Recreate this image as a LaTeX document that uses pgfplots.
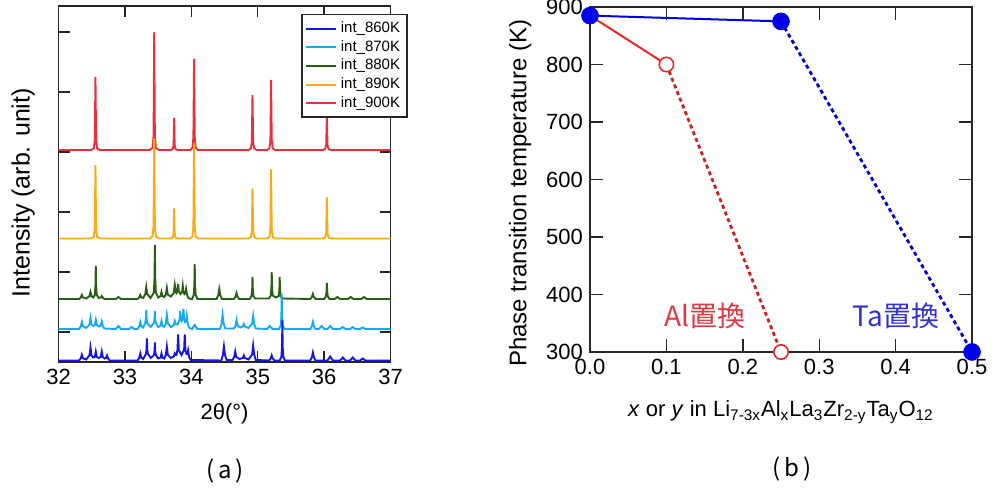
\documentclass[border=0pt]{standalone}
\usepackage{fontspec}
\setmainfont{Liberation Sans}
\newfontfamily\jp{Noto Sans CJK JP}
\usepackage{pgfplots}
\pgfplotsset{compat=1.18}

\definecolor{c860}{RGB}{20,20,230}
\definecolor{c870}{RGB}{20,170,240}
\definecolor{c880}{RGB}{40,95,20}
\definecolor{c890}{RGB}{250,170,20}
\definecolor{c900}{RGB}{230,50,60}
\definecolor{pblue}{RGB}{0,0,235}
\definecolor{pred}{RGB}{235,40,40}
\definecolor{tred}{RGB}{225,55,65}
\definecolor{tblue}{RGB}{50,50,210}

\pgfplotsset{
  every axis/.append style={
    scale only axis,
    axis line style={black!85, line width=0.8pt},
    tick style={black!85, line width=0.7pt},
    tick align=inside,
    tick pos=both,
    /pgf/number format/assume math mode=true,
    tick label style={font=\fontsize{11}{13}\selectfont},
  },
}

\begin{document}
\begin{tikzpicture}
\path[use as bounding box] (0,0) rectangle (497pt,245pt);

% ---------- (a) XRD patterns ----------
\begin{axis}[
  at={(29.3pt,64pt)}, anchor=south west,
  width=166pt, height=178pt,
  xmin=32, xmax=37, ymin=0, ymax=356,
  xtick={32,33,34,35,36,37},
  ytick={30,90,150,210,270,330}, yticklabels={},
  major tick length=5.5pt,
  xlabel={2θ(°)},
  xlabel style={at={(axis description cs:0.5,0)}, yshift=-26pt, anchor=center,
                font=\fontsize{11}{13}\selectfont},
  ylabel={Intensity (arb. unit)},
  ylabel style={at={(axis description cs:-0.107,0.475)}, anchor=center,
                font=\fontsize{12.5}{14}\selectfont},
  reverse legend,
  legend cell align=left,
  legend style={at={(1.052,0.978)}, anchor=north east,
                draw=black!85, line width=0.8pt,
                font=\fontsize{7.5}{8}\selectfont,
                inner sep=1.5pt, row sep=-1.6pt},
  legend image code/.code={\draw[#1, line width=1pt] (0pt,0pt) -- (15pt,0pt);},
  every axis plot/.append style={line width=0.95pt},
]
% 900 K
\addplot[c900] coordinates {
(32,212) (32.49,212) (32.53,213.5) (32.545,222) (32.555,285) (32.565,222) (32.58,213.5) (32.62,212)
(33.37,212) (33.415,214) (33.43,226) (33.44,330) (33.45,226) (33.465,214) (33.51,212)
(33.69,212) (33.72,213) (33.732,217) (33.74,244) (33.748,217) (33.76,213) (33.79,212)
(33.98,212) (34.015,214) (34.03,225) (34.04,303) (34.05,225) (34.065,214) (34.10,212)
(34.86,212) (34.895,213.5) (34.91,220) (34.92,267) (34.93,220) (34.945,213.5) (34.98,212)
(35.14,212) (35.175,213.5) (35.19,222) (35.20,282) (35.21,222) (35.225,213.5) (35.26,212)
(35.98,212) (36.015,213) (36.03,217) (36.04,245) (36.05,217) (36.065,213) (36.10,212)
(37,212)};
\addlegendentry{int\_900K}
% 890 K
\addplot[c890] coordinates {
(32,123.5) (32.49,123.5) (32.53,125) (32.545,133) (32.555,196.5) (32.565,133) (32.58,125) (32.62,123.5)
(33.37,123.5) (33.415,125.5) (33.43,136) (33.44,223.5) (33.45,136) (33.465,125.5) (33.51,123.5)
(33.69,123.5) (33.72,124.5) (33.732,128) (33.74,153.5) (33.748,128) (33.76,124.5) (33.79,123.5)
(33.98,123.5) (34.015,125.5) (34.03,135) (34.04,218.5) (34.05,135) (34.065,125.5) (34.10,123.5)
(34.86,123.5) (34.895,125) (34.91,131) (34.92,173.5) (34.93,131) (34.945,125) (34.98,123.5)
(35.14,123.5) (35.175,125) (35.19,132) (35.20,192.5) (35.21,132) (35.225,125) (35.26,123.5)
(35.98,123.5) (36.015,124.5) (36.03,129) (36.04,164.5) (36.05,129) (36.065,124.5) (36.10,123.5)
(37,123.5)};
\addlegendentry{int\_890K}
% 880 K
\addplot[c880] coordinates {
(32,63) (32.31,63) (32.335,64.6) (32.35,67) (32.365,64.6) (32.415,63.5)
(32.465,65.8) (32.48,70) (32.495,66) (32.52,64.5)
(32.545,67) (32.555,76) (32.56,96) (32.565,76) (32.575,67) (32.605,64)
(32.635,64.5) (32.65,66) (32.665,64.5) (32.69,63)
(32.86,63) (32.9,65) (32.94,63)
(33.19,63) (33.215,64.6) (33.23,67) (33.245,64.6) (33.275,64)
(33.305,67.8) (33.32,75) (33.335,67.8) (33.385,64)
(33.435,69.5) (33.445,84.6) (33.45,117) (33.455,84.6) (33.465,69.5) (33.50,64.5)
(33.535,65.8) (33.55,70) (33.565,65.8) (33.59,65)
(33.615,67.4) (33.63,74) (33.645,67.4) (33.69,65.5)
(33.735,69) (33.75,77) (33.765,70) (33.775,69)
(33.79,71) (33.80,78) (33.81,71) (33.835,68)
(33.86,70) (33.87,76) (33.88,70) (33.895,68)
(33.91,69) (33.92,73) (33.935,67) (33.96,63.5)
(34.01,63) (34.035,67) (34.045,77) (34.05,98) (34.055,77) (34.065,67) (34.09,63)
(34.38,63) (34.405,67) (34.42,73) (34.435,67) (34.46,63)
(34.64,63) (34.665,65.4) (34.68,69) (34.695,65.4) (34.72,63)
(34.88,63) (34.905,66) (34.915,72) (34.92,85) (34.925,72) (34.935,66) (34.96,63.5)
(35.17,63.5) (35.195,66.5) (35.205,74) (35.21,90) (35.215,74) (35.225,66.5) (35.27,64.5)
(35.315,66) (35.325,72) (35.33,85) (35.335,72) (35.345,66) (35.37,63.5)
(35.79,63) (35.815,65) (35.83,68) (35.845,65) (35.87,63)
(36.00,63) (36.025,65.5) (36.035,70) (36.04,79) (36.045,70) (36.055,65.5) (36.08,63)
(36.16,63) (36.2,65) (36.24,63)
(36.36,63) (36.4,65) (36.44,63)
(36.56,63) (36.6,65) (36.64,63)
(37,63)};
\addlegendentry{int\_880K}
% 870 K
\addplot[c870] coordinates {
(32,33) (32.31,33) (32.335,35.8) (32.35,40) (32.365,35.8) (32.415,34)
(32.465,37.4) (32.48,44) (32.495,37.5) (32.52,36)
(32.545,37) (32.56,42) (32.575,37) (32.605,35.5)
(32.635,36.5) (32.65,40.5) (32.665,36) (32.69,33.5)
(32.86,33) (32.9,36) (32.94,33)
(33.06,33) (33.1,35) (33.14,33)
(33.19,33) (33.215,35.8) (33.23,40) (33.245,35.8) (33.275,34.5)
(33.305,39) (33.315,44) (33.32,52) (33.325,44) (33.335,39) (33.385,35)
(33.435,39) (33.445,43) (33.45,51) (33.455,43) (33.465,39) (33.50,35)
(33.535,36.2) (33.55,41) (33.565,36.2) (33.59,35)
(33.615,38.6) (33.63,47) (33.645,38.6) (33.69,35)
(33.735,37) (33.75,41) (33.765,38) (33.79,37.5)
(33.82,42) (33.83,51) (33.84,43) (33.855,41)
(33.87,44) (33.88,53) (33.89,43) (33.905,40)
(33.92,41) (33.93,46) (33.945,38) (33.97,34)
(34.01,33) (34.05,37) (34.09,33)
(34.43,33) (34.455,38.6) (34.47,47) (34.485,38.6) (34.51,33.5)
(34.64,33.5) (34.665,36.6) (34.68,42) (34.695,36.6) (34.735,34.5)
(34.775,35.5) (34.79,38) (34.805,35.5) (34.86,34)
(34.915,38.2) (34.93,46) (34.945,38.2) (34.97,33.5)
(35.14,33) (35.18,36) (35.22,33)
(35.32,33) (35.345,36.5) (35.355,45) (35.36,68) (35.365,45) (35.375,36.5) (35.40,33)
(35.79,33) (35.815,35.8) (35.83,40) (35.845,35.8) (35.87,33)
(35.92,33) (35.96,36) (36.0,33)
(36.05,33) (36.09,36) (36.13,33)
(36.24,33) (36.28,35) (36.32,33)
(36.39,33) (36.43,35) (36.47,33)
(36.54,33) (36.58,34.5) (36.62,33)
(37,33)};
\addlegendentry{int\_870K}
% 860 K
\addplot[c860] coordinates {
(32,1.5) (32.31,1.5) (32.335,3.8) (32.35,7.2) (32.365,3.8) (32.415,2.5)
(32.465,6.7) (32.48,14.5) (32.495,6.7) (32.52,4.5)
(32.545,5.1) (32.56,10.5) (32.575,5.1) (32.605,4)
(32.635,5.1) (32.65,10.5) (32.665,5.1) (32.69,3.5)
(32.715,4) (32.73,6.5) (32.745,3.5) (32.77,1.5)
(33.19,1.5) (33.215,4.3) (33.23,8.5) (33.245,4.3) (33.275,3)
(33.315,8) (33.325,13) (33.33,23.5) (33.335,13) (33.345,8) (33.39,4)
(33.435,7) (33.445,11) (33.45,19.5) (33.455,11) (33.465,7) (33.50,3.5)
(33.535,4.3) (33.55,8.5) (33.565,4.3) (33.59,3.5)
(33.615,7.1) (33.63,15.5) (33.645,7.1) (33.69,4)
(33.735,5.5) (33.75,8.5) (33.765,7) (33.775,7)
(33.79,12) (33.80,27.5) (33.81,12) (33.85,7)
(33.89,12) (33.90,27.5) (33.91,12) (33.925,8)
(33.94,8) (33.95,11.5) (33.965,5) (33.99,2)
(34.45,1.5) (34.475,7.1) (34.49,15.5) (34.505,7.1) (34.53,2)
(34.62,2) (34.645,5.1) (34.66,10.5) (34.675,5.1) (34.725,3)
(34.775,4) (34.79,6.5) (34.805,4) (34.86,2.5)
(34.915,7.5) (34.93,16.5) (34.945,7.5) (34.97,2)
(35.17,1.5) (35.195,3.5) (35.21,6.5) (35.225,3.5) (35.25,1.5)
(35.33,1.5) (35.355,5) (35.365,15) (35.37,41.5) (35.375,15) (35.385,5) (35.41,1.5)
(35.79,1.5) (35.815,4.7) (35.83,9.5) (35.845,4.7) (35.87,1.5)
(36.05,1.5) (36.09,5.5) (36.13,1.5)
(36.24,1.5) (36.28,4.5) (36.32,1.5)
(36.39,1.5) (36.43,4.5) (36.47,1.5)
(36.54,1.5) (36.58,3.5) (36.62,1.5)
(37,1.5)};
\addlegendentry{int\_860K}
\end{axis}

% ---------- (b) transition temperature ----------
\begin{axis}[
  at={(295pt,69pt)}, anchor=south west,
  width=191pt, height=172.5pt,
  xmin=0, xmax=0.5, ymin=300, ymax=900,
  xtick={0,0.1,0.2,0.3,0.4,0.5},
  ytick={300,400,500,600,700,800,900},
  xticklabel style={/pgf/number format/.cd, fixed, fixed zerofill, precision=1},
  major tick length=6.5pt,
  clip=false,
  xlabel={\textit{x} or \textit{y} in Li\textsubscript{7-3x}Al\textsubscript{x}La\textsubscript{3}Zr\textsubscript{2-y}Ta\textsubscript{y}O\textsubscript{12}},
  xlabel style={at={(axis description cs:0.5,0)}, yshift=-30pt, anchor=center,
                font=\fontsize{11}{13}\selectfont},
  ylabel={Phase transition temperature (K)},
  ylabel style={at={(axis description cs:-0.183,0.46)}, anchor=center,
                font=\fontsize{12}{14}\selectfont},
]
% Al substitution
\addplot[pred, line width=1pt] coordinates {(0,885) (0.1,800)};
\addplot[pred!85!black, line width=1.4pt, dash pattern=on 2pt off 1.6pt] coordinates {(0.1,800) (0.25,300)};
% Ta substitution
\addplot[pblue, line width=1pt] coordinates {(0,885) (0.25,875)};
\addplot[pblue!85!black, line width=1.4pt, dash pattern=on 2pt off 1.6pt] coordinates {(0.25,875) (0.5,300)};
\addplot[only marks, mark=*, mark size=4.2pt, pblue] coordinates {(0,885) (0.25,875) (0.5,300)};
\addplot[only marks, mark=*, mark size=3.6pt, pred, fill=white, line width=0.8pt,
         mark options={fill=white}] coordinates {(0.1,800) (0.25,300)};
\node[text=tred, font=\jp\fontsize{14}{16}\selectfont] at (axis cs:0.1505,363.5) {Al置換};
\node[text=tblue, font=\jp\fontsize{14}{16}\selectfont] at (axis cs:0.4005,363.5) {Ta置換};
\end{axis}

\node[font=\jp\fontsize{12}{14}\selectfont] at (112.5pt,9.5pt) {(\,a\,)};
\node[font=\jp\fontsize{12}{14}\selectfont] at (396pt,10.5pt) {(\,b\,)};
\end{tikzpicture}
\end{document}
